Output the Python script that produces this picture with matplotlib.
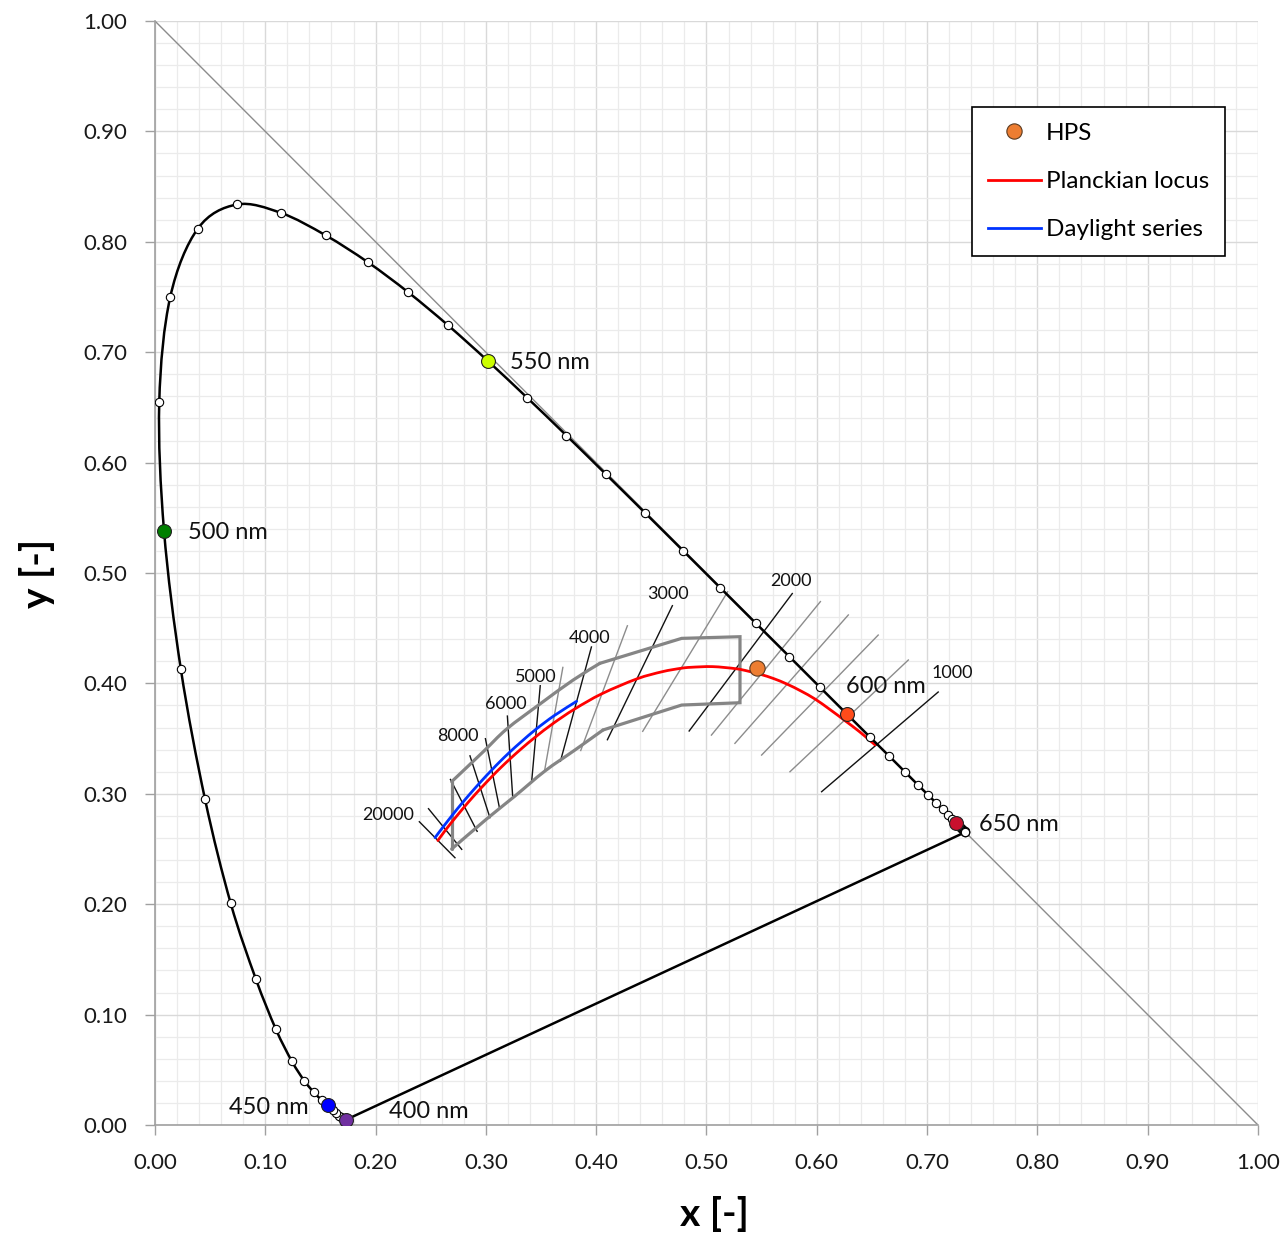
#!/usr/bin/env python3
# -*- coding: utf-8 -*-
"""CIE 1931 chromaticity diagram with Planckian locus, daylight series and HPS point."""

import matplotlib

matplotlib.use("Agg")
import matplotlib.pyplot as plt
from matplotlib.lines import Line2D
from matplotlib.patches import PathPatch
from matplotlib.path import Path
from matplotlib.ticker import FormatStrFormatter, MultipleLocator

# spectral locus (CIE 1931 2 deg), 400-700 nm in 5 nm steps
WAVELENGTHS = [
    400, 405, 410, 415, 420, 425, 430, 435, 440, 445, 450, 455, 460, 465, 470, 475,
    480, 485, 490, 495, 500, 505, 510, 515, 520, 525, 530, 535, 540, 545, 550, 555,
    560, 565, 570, 575, 580, 585, 590, 595, 600, 605, 610, 615, 620, 625, 630, 635,
    640, 645, 650, 655, 660, 665, 670, 675, 680, 685, 690, 695, 700,
]
LOCUS_X = [
    0.1733, 0.1730, 0.1726, 0.1721, 0.1714, 0.1703, 0.1689, 0.1669, 0.1644, 0.1611,
    0.1566, 0.1510, 0.1440, 0.1355, 0.1241, 0.1096, 0.0913, 0.0687, 0.0454, 0.0235,
    0.0082, 0.0039, 0.0139, 0.0389, 0.0743, 0.1142, 0.1547, 0.1929, 0.2296, 0.2658,
    0.3016, 0.3373, 0.3731, 0.4087, 0.4441, 0.4788, 0.5125, 0.5448, 0.5752, 0.6029,
    0.6270, 0.6482, 0.6658, 0.6801, 0.6915, 0.7006, 0.7079, 0.7140, 0.7190, 0.7230,
    0.7260, 0.7283, 0.7300, 0.7311, 0.7320, 0.7327, 0.7334, 0.7340, 0.7344, 0.7346,
    0.7347,
]
LOCUS_Y = [
    0.0048, 0.0048, 0.0048, 0.0048, 0.0051, 0.0058, 0.0069, 0.0086, 0.0109, 0.0138,
    0.0177, 0.0227, 0.0297, 0.0399, 0.0578, 0.0868, 0.1327, 0.2007, 0.2950, 0.4127,
    0.5384, 0.6548, 0.7502, 0.8120, 0.8338, 0.8262, 0.8059, 0.7816, 0.7543, 0.7243,
    0.6923, 0.6589, 0.6245, 0.5896, 0.5547, 0.5202, 0.4866, 0.4544, 0.4242, 0.3965,
    0.3725, 0.3514, 0.3340, 0.3197, 0.3083, 0.2993, 0.2920, 0.2859, 0.2809, 0.2770,
    0.2740, 0.2717, 0.2700, 0.2689, 0.2680, 0.2673, 0.2666, 0.2660, 0.2656, 0.2654,
    0.2653,
]
HIGHLIGHT_NM = [400, 450, 500, 550, 600, 650]
HIGHLIGHT_COLORS = ["#7030A0", "#0000FF", "#008000", "#CCFF00", "#FF4B1A", "#C8102E"]

# Planckian locus
PLANCK_T = [1000, 1100, 1200, 1300, 1400, 1500, 1600, 1700, 1800, 1900, 2000, 2200,
            2400, 2500, 2700, 3000, 3500, 4000, 4500, 5000, 5500, 6000, 6500, 7000,
            8000, 9000, 10000, 12000, 15000, 20000]
PLANCK_X = [0.6528, 0.6387, 0.6250, 0.6116, 0.5985, 0.5857, 0.5732, 0.5611, 0.5494,
            0.5378, 0.5267, 0.5056, 0.4861, 0.4770, 0.4599, 0.4369, 0.4053, 0.3805,
            0.3608, 0.3451, 0.3325, 0.3221, 0.3135, 0.3064, 0.2952, 0.2869, 0.2807,
            0.2719, 0.2637, 0.2565]
PLANCK_Y = [0.3444, 0.3563, 0.3667, 0.3766, 0.3858, 0.3931, 0.3993, 0.4043, 0.4081,
            0.4111, 0.4133, 0.4152, 0.4146, 0.4137, 0.4106, 0.4041, 0.3907, 0.3768,
            0.3636, 0.3516, 0.3411, 0.3318, 0.3237, 0.3166, 0.3048, 0.2956, 0.2884,
            0.2778, 0.2675, 0.2577]

# daylight series
DAYLIGHT_T = [4000, 4500, 5000, 5500, 6000, 6500, 7000, 8000, 10000, 12000, 15000, 20000]
DAYLIGHT_X = [0.3823, 0.3621, 0.3457, 0.3325, 0.3217, 0.3128, 0.3054, 0.2938, 0.2788,
              0.2697, 0.2614, 0.2539]
DAYLIGHT_Y = [0.3838, 0.3709, 0.3587, 0.3475, 0.3378, 0.3292, 0.3216, 0.3092, 0.2920,
              0.2808, 0.2702, 0.2603]

# isotemperature lines (lower end -> upper end)
ISO_T = [1000, 1200, 1400, 1600, 1800, 2000, 2500, 3000, 3500, 4000, 4500, 5000,
         6000, 7000, 8000, 10000, 15000, 20000]
ISO_X1 = [0.6044, 0.5757, 0.5500, 0.5258, 0.5045, 0.4843, 0.4422, 0.4102, 0.3860,
          0.3676, 0.3531, 0.3416, 0.3243, 0.3124, 0.3037, 0.2921, 0.2781, 0.2720]
ISO_Y1 = [0.3019, 0.3200, 0.3351, 0.3457, 0.3532, 0.3569, 0.3566, 0.3490, 0.3392,
          0.3295, 0.3202, 0.3120, 0.2977, 0.2869, 0.2784, 0.2660, 0.2497, 0.2421]
ISO_X2 = [0.7101, 0.6830, 0.6557, 0.6286, 0.6033, 0.5778, 0.5192, 0.4691, 0.4283,
          0.3957, 0.3698, 0.3493, 0.3195, 0.2996, 0.2856, 0.2679, 0.2480, 0.2397]
ISO_Y2 = [0.3922, 0.4212, 0.4438, 0.4620, 0.4741, 0.4814, 0.4830, 0.4704, 0.4522,
          0.4330, 0.4145, 0.3979, 0.3704, 0.3499, 0.3344, 0.3130, 0.2865, 0.2747]
ISO_MINOR = [1200, 1400, 1600, 1800, 2500, 3500, 4500]
ISO_LABEL_T = [1000, 2000, 3000, 4000, 5000, 6000, 8000, 20000]
ISO_LABEL_X = [0.7226, 0.5766, 0.4651, 0.3944, 0.3454, 0.3182, 0.2747, 0.2112]
ISO_LABEL_Y = [0.4094, 0.4928, 0.4810, 0.4411, 0.4058, 0.3813, 0.3524, 0.2808]

# white-light boundary: curved left parts, straight right parts
BOX_UPPER_X = [0.2690, 0.2976, 0.3189, 0.3490, 0.3792, 0.4034]
BOX_UPPER_Y = [0.3110, 0.3381, 0.3587, 0.3813, 0.4031, 0.4182]
BOX_RIGHT_X = [0.4034, 0.4775, 0.5304, 0.5304, 0.4775, 0.4062]
BOX_RIGHT_Y = [0.4182, 0.4408, 0.4423, 0.3825, 0.3804, 0.3578]
BOX_LOWER_X = [0.4062, 0.3808, 0.3536, 0.3264, 0.3007, 0.2690]
BOX_LOWER_Y = [0.3578, 0.3397, 0.3207, 0.2980, 0.2772, 0.2500]
BOX_LEFT_X = [0.2690, 0.2690]
BOX_LEFT_Y = [0.2500, 0.3110]

HPS_X = [0.5455]
HPS_Y = [0.4137]


def smooth_path(xs, ys):
    """Catmull-Rom curve through the points, as cubic Bezier segments."""
    pts = list(zip(xs, ys))
    n = len(pts)
    verts = [pts[0]]
    codes = [Path.MOVETO]
    for i in range(n - 1):
        p0 = pts[i - 1] if i > 0 else pts[i]
        p1 = pts[i]
        p2 = pts[i + 1]
        p3 = pts[i + 2] if i + 2 < n else pts[i + 1]
        c1 = (p1[0] + (p2[0] - p0[0]) / 6.0, p1[1] + (p2[1] - p0[1]) / 6.0)
        c2 = (p2[0] - (p3[0] - p1[0]) / 6.0, p2[1] - (p3[1] - p1[1]) / 6.0)
        verts.extend([c1, c2, p2])
        codes.extend([Path.CURVE4, Path.CURVE4, Path.CURVE4])
    return Path(verts, codes)


def add_curve(ax, xs, ys, **kwargs):
    patch = PathPatch(smooth_path(xs, ys), fill=False, capstyle="round", joinstyle="round", **kwargs)
    ax.add_patch(patch)
    return patch


def build_figure(output_path: str) -> None:
    plt.rcParams["font.family"] = ["Lato", "DejaVu Sans"]
    fig = plt.figure(figsize=(12.86, 12.36), dpi=100)
    ax = fig.add_axes([0.1205, 0.0898, 0.8577, 0.8932])

    # grid and axes
    ax.set_xlim(0, 1)
    ax.set_ylim(0, 1)
    ax.xaxis.set_major_locator(MultipleLocator(0.1))
    ax.yaxis.set_major_locator(MultipleLocator(0.1))
    ax.xaxis.set_minor_locator(MultipleLocator(0.02))
    ax.yaxis.set_minor_locator(MultipleLocator(0.02))
    ax.xaxis.set_major_formatter(FormatStrFormatter("%.2f"))
    ax.yaxis.set_major_formatter(FormatStrFormatter("%.2f"))
    ax.set_axisbelow(True)
    ax.grid(which="minor", color="#EBEBEB", linewidth=0.9)
    ax.grid(which="major", color="#D9D9D9", linewidth=1.0)
    for side in ("top", "right"):
        ax.spines[side].set_visible(False)
    for side in ("left", "bottom"):
        ax.spines[side].set_color("#A0A0A0")
        ax.spines[side].set_linewidth(1.2)
    ax.tick_params(which="major", length=7, width=1.0, color="#A0A0A0", pad=13,
                   labelsize=16, labelcolor="#1a1a1a")
    ax.tick_params(which="minor", length=0)
    ax.set_xlabel("x [-]", fontsize=28, fontweight="bold")
    ax.set_ylabel("y [-]", fontsize=28, fontweight="bold")
    ax.xaxis.set_label_coords(0.507, -0.064)
    ax.yaxis.set_label_coords(-0.091, 0.5)

    ax.plot([0, 1], [1, 0], color="#8C8C8C", linewidth=1.0, zorder=1)

    # isotemperature lines
    for t, x1, y1, x2, y2 in zip(ISO_T, ISO_X1, ISO_Y1, ISO_X2, ISO_Y2):
        minor = t in ISO_MINOR
        ax.plot([x1, x2], [y1, y2], color="#8C8C8C" if minor else "#111111",
                linewidth=1.0, zorder=2)
    for t, lx, ly in zip(ISO_LABEL_T, ISO_LABEL_X, ISO_LABEL_Y):
        ax.text(lx, ly, str(t), fontsize=13, ha="center", va="center", color="#111111", zorder=8)

    box_style = dict(edgecolor="#858585", linewidth=2.3, zorder=2.5)
    add_curve(ax, BOX_UPPER_X, BOX_UPPER_Y, **box_style)
    add_curve(ax, BOX_LOWER_X, BOX_LOWER_Y, **box_style)
    ax.plot(BOX_RIGHT_X, BOX_RIGHT_Y, color="#858585", linewidth=2.3, zorder=2.5,
            solid_joinstyle="miter", solid_capstyle="round")
    ax.plot(BOX_LEFT_X, BOX_LEFT_Y, color="#858585", linewidth=2.3, zorder=2.5,
            solid_capstyle="round")

    add_curve(ax, PLANCK_X, PLANCK_Y, edgecolor="#FF0000", linewidth=2.0, zorder=3)
    add_curve(ax, DAYLIGHT_X, DAYLIGHT_Y, edgecolor="#0033FF", linewidth=2.0, zorder=3.5)

    # spectral locus and purple line
    add_curve(ax, LOCUS_X, LOCUS_Y, edgecolor="black", linewidth=1.8, zorder=4)
    ax.plot([LOCUS_X[0], LOCUS_X[-1]], [LOCUS_Y[0], LOCUS_Y[-1]], color="black", linewidth=1.8, zorder=4)
    ax.plot(LOCUS_X, LOCUS_Y, linestyle="none", marker="o", markersize=6,
            markerfacecolor="white", markeredgecolor="black", markeredgewidth=0.8, zorder=5)
    for nm, color in zip(HIGHLIGHT_NM, HIGHLIGHT_COLORS):
        i = WAVELENGTHS.index(nm)
        ax.plot(LOCUS_X[i], LOCUS_Y[i], linestyle="none", marker="o", markersize=10,
                markerfacecolor=color, markeredgecolor="#222222", markeredgewidth=0.8, zorder=6)

    ax.plot(HPS_X, HPS_Y, linestyle="none", marker="o", markersize=11, markerfacecolor="#ED7D31",
            markeredgecolor="#5a3a20", markeredgewidth=0.8, zorder=7)

    wl_labels = [
        ("400 nm", 0.212, 0.0118, "left"),
        ("450 nm", 0.1396, 0.0163, "right"),
        ("500 nm", 0.030, 0.537, "left"),
        ("550 nm", 0.322, 0.691, "left"),
        ("600 nm", 0.6262, 0.397, "left"),
        ("650 nm", 0.747, 0.2726, "left"),
    ]
    for text, tx, ty, ha in wl_labels:
        ax.text(tx, ty, text, fontsize=17, ha=ha, va="center", color="#111111", zorder=8)

    handles = [
        Line2D([], [], linestyle="none", marker="o", markersize=11, markerfacecolor="#ED7D31",
               markeredgecolor="#5a3a20", markeredgewidth=0.8),
        Line2D([], [], color="#FF0000", linewidth=2.0),
        Line2D([], [], color="#0033FF", linewidth=2.0),
    ]
    legend = ax.legend(handles, ["HPS", "Planckian locus", "Daylight series"],
                       loc="upper left", bbox_to_anchor=(0.7407, 0.9221), fontsize=17.5,
                       frameon=True, fancybox=False, framealpha=1.0, edgecolor="black",
                       borderpad=0.65, labelspacing=1.12, handlelength=2.2, handletextpad=0.2,
                       borderaxespad=0.0)
    legend.get_frame().set_linewidth(1.2)
    legend.set_zorder(10)

    fig.savefig(output_path, dpi=100, facecolor="white")
    plt.close(fig)


def main() -> None:
    build_figure("out.png")


if __name__ == "__main__":
    main()
